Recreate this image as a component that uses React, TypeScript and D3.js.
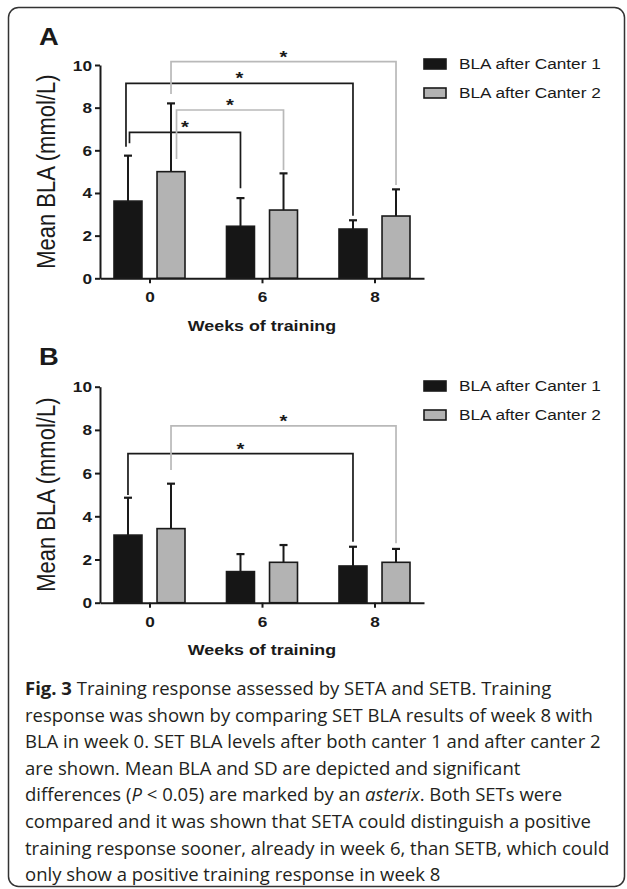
import React, { useEffect, useRef } from 'react';
import * as d3 from 'd3';

const weeks = ['0', '6', '8'];
const seriesNames = ['BLA after Canter 1', 'BLA after Canter 2'];
const yTicks = [0, 2, 4, 6, 8, 10];

// SETA, mean BLA and SD per week
const setaCanter1 = [3.62, 2.44, 2.31];
const setaCanter1Sd = [2.13, 1.32, 0.41];
const setaCanter2 = [5.0, 3.2, 2.92];
const setaCanter2Sd = [3.2, 1.72, 1.25];

// SETB
const setbCanter1 = [3.13, 1.44, 1.7];
const setbCanter1Sd = [1.73, 0.81, 0.89];
const setbCanter2 = [3.43, 1.87, 1.87];
const setbCanter2Sd = [2.08, 0.8, 0.62];

// significance brackets (series, week from -> to, bracket level, where the legs stop)
const setaBrackets = [
  { series: 0, from: 0, to: 1, level: 6.84, legs: [6.33, 4.22] },
  { series: 1, from: 0, to: 1, level: 7.89, legs: [5.59, 5.08] },
  { series: 0, from: 0, to: 2, level: 9.14, legs: [6.17, 2.93] },
  { series: 1, from: 0, to: 2, level: 10.16, legs: [8.64, 4.37] },
];
const setbBrackets = [
  { series: 0, from: 0, to: 2, level: 6.9, legs: [4.99, 2.82] },
  { series: 1, from: 0, to: 2, level: 8.19, legs: [6.14, 2.75] },
];

const captionLines = [
  [['Fig. 3', 'b'], [' Training response assessed by SETA and SETB. Training', '']],
  [['response was shown by comparing SET BLA results of week 8 with', '']],
  [['BLA in week 0. SET BLA levels after both canter 1 and after canter 2', '']],
  [['are shown. Mean BLA and SD are depicted and significant', '']],
  [['differences (', ''], ['P', 'i'], [' < 0.05) are marked by an ', ''], ['asterix', 'i'], ['. Both SETs were', '']],
  [['compared and it was shown that SETA could distinguish a positive', '']],
  [['training response sooner, already in week 6, than SETB, which could', '']],
  [['only show a positive training response in week 8', '']],
];

const ink = '#1a1a1a';
const fills = ['#161616', '#b3b3b3'];
const bracketColors = ['#1a1a1a', '#b9b9b9'];
const font = '"Liberation Sans", Arial, sans-serif';
const SX = 1.19; // the original figure is a bit wider than tall
// small sideways nudges of the left bracket legs so they don't sit on the error bars
const legNudgeA = [1.5, 5.5, -2, 0];
const legNudgeB = [0, 0];

function drawPanel(svg, p) {
  const g = svg.append('g');
  const x = d3.scalePoint().domain(weeks).range([100, 424]).padding(0.44);
  const sub = d3.scaleBand().domain([0, 1]).range([-35.5, 35.5]).paddingInner(0.35);
  const y = d3.scaleLinear().domain([0, 10]).range(p.yRange);
  const means = [p.c1, p.c2];
  const sds = [p.c1sd, p.c2sd];

  // bars
  means.forEach((vals, s) => {
    g.append('g')
      .selectAll('rect')
      .data(vals)
      .join('rect')
      .attr('x', (d, i) => x(weeks[i]) + sub(s))
      .attr('y', d => y(d))
      .attr('width', sub.bandwidth())
      .attr('height', d => y(0) - y(d))
      .attr('fill', fills[s])
      .attr('stroke', ink)
      .attr('stroke-width', 1.6);
  });

  // error bars (upper SD only)
  means.forEach((vals, s) => {
    vals.forEach((v, i) => {
      const cx = x(weeks[i]) + sub(s) + sub.bandwidth() / 2;
      const top = y(v + sds[s][i]);
      g.append('line').attr('x1', cx).attr('x2', cx).attr('y1', y(v)).attr('y2', top)
        .attr('stroke', ink).attr('stroke-width', 2);
      g.append('line').attr('x1', cx - 4).attr('x2', cx + 4).attr('y1', top).attr('y2', top)
        .attr('stroke', ink).attr('stroke-width', 2.2);
    });
  });

  // axes
  const yAxis = g.append('g')
    .attr('transform', 'translate(100,0)')
    .call(d3.axisLeft(y).tickValues(yTicks).tickSize(5).tickSizeOuter(0));
  const xAxis = g.append('g')
    .attr('transform', `translate(0,${y(0)})`)
    .call(d3.axisBottom(x).tickSize(5).tickSizeOuter(0));
  [yAxis, xAxis].forEach(a => {
    a.attr('font-size', null).attr('font-family', null);
    a.selectAll('path, line').attr('stroke', ink).attr('stroke-width', 2);
  });
  yAxis.selectAll('.tick text')
    .attr('x', null).attr('dy', null)
    .attr('transform', `translate(-8,5) scale(${SX},1)`)
    .attr('text-anchor', 'end');
  xAxis.selectAll('.tick text')
    .attr('y', null).attr('dy', null)
    .attr('transform', `translate(0,24) scale(${SX},1)`)
    .attr('text-anchor', 'middle');
  g.selectAll('.tick text')
    .attr('fill', ink)
    .style('font-family', font)
    .style('font-weight', 'bold')
    .style('font-size', '14.5px');

  // significance brackets
  p.brackets.forEach((b, k) => {
    const lx = x(weeks[b.from]) + sub(b.series) + sub.bandwidth() / 2 + p.nudge[k];
    const rx = x(weeks[b.to]) + sub(b.series) + sub.bandwidth() / 2;
    g.append('path')
      .attr('d', `M${lx},${y(b.legs[0])}V${y(b.level)}H${rx}V${y(b.legs[1])}`)
      .attr('fill', 'none')
      .attr('stroke', bracketColors[b.series])
      .attr('stroke-width', 1.7);
    g.append('text')
      .attr('transform', `translate(${(lx + rx) / 2},${y(b.level) + 1}) scale(${SX},1)`)
      .attr('text-anchor', 'middle')
      .attr('fill', ink)
      .style('font-family', font)
      .style('font-weight', 'bold')
      .style('font-size', '17px')
      .text('*');
  });

  // y label
  g.append('text')
    .attr('transform', `translate(55,${(y(0) + y(10)) / 2}) rotate(-90) scale(1,${SX})`)
    .attr('text-anchor', 'middle')
    .attr('fill', ink)
    .style('font-family', font)
    .style('font-size', '22px')
    .text('Mean BLA (mmol/L)');

  // x label
  g.append('text')
    .attr('transform', `translate(262,${p.xLabelY}) scale(${SX},1)`)
    .attr('text-anchor', 'middle')
    .attr('fill', ink)
    .style('font-family', font)
    .style('font-weight', 'bold')
    .style('font-size', '15px')
    .text('Weeks of training');

  // panel letter
  g.append('text')
    .attr('transform', `translate(39,${p.letterY}) scale(${SX},1)`)
    .attr('fill', ink)
    .style('font-family', font)
    .style('font-weight', 'bold')
    .style('font-size', '23px')
    .text(p.letter);

  // legend
  seriesNames.forEach((name, s) => {
    const cy = p.legendY + s * 29;
    g.append('rect')
      .attr('x', 424).attr('y', cy - 5).attr('width', 22).attr('height', 10)
      .attr('fill', fills[s]).attr('stroke', ink).attr('stroke-width', 1.6);
    g.append('text')
      .attr('transform', `translate(459,${cy + 5}) scale(${SX},1)`)
      .attr('fill', ink)
      .style('font-family', font)
      .style('font-size', '14.5px')
      .text(name);
  });
}

export default function App() {
  const ref = useRef(null);

  useEffect(() => {
    const svg = d3.select(ref.current);
    svg.selectAll('*').remove();

    svg.append('rect')
      .attr('x', 8.5).attr('y', 7.5).attr('width', 616).attr('height', 879)
      .attr('rx', 10)
      .attr('fill', 'none').attr('stroke', '#333').attr('stroke-width', 1.5);

    drawPanel(svg, {
      letter: 'A', letterY: 45, yRange: [278.3, 65], xLabelY: 331, legendY: 64,
      c1: setaCanter1, c1sd: setaCanter1Sd, c2: setaCanter2, c2sd: setaCanter2Sd,
      brackets: setaBrackets, nudge: legNudgeA,
    });
    drawPanel(svg, {
      letter: 'B', letterY: 365, yRange: [602.7, 386.7], xLabelY: 655, legendY: 386,
      c1: setbCanter1, c1sd: setbCanter1Sd, c2: setbCanter2, c2sd: setbCanter2Sd,
      brackets: setbBrackets, nudge: legNudgeB,
    });

    const cap = svg.append('g')
      .style('font-family', '"Open Sans", "Noto Sans", sans-serif')
      .style('font-size', '18.5px')
      .attr('fill', '#231f20');
    captionLines.forEach((line, li) => {
      const t = cap.append('text').attr('x', 25).attr('y', 695 + li * 26.6);
      line.forEach(([txt, st]) => {
        t.append('tspan')
          .style('font-weight', st === 'b' ? 'bold' : null)
          .style('font-style', st === 'i' ? 'italic' : null)
          .text(txt);
      });
    });
  }, []);

  return (
    <svg ref={ref} width={627} height={889}
      style={{ position: 'absolute', left: 0, top: 0, background: '#fff' }} />
  );
}
